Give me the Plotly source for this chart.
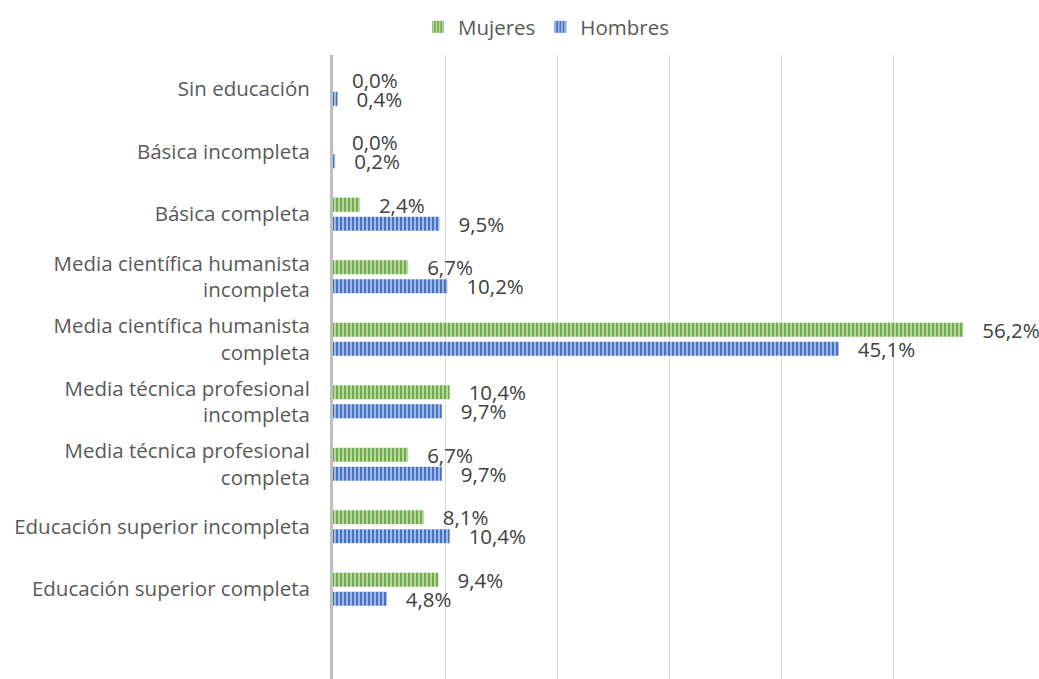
import plotly.graph_objects as go

categories = [
    "Sin educación",
    "Básica incompleta",
    "Básica completa",
    "Media científica humanista<br>incompleta",
    "Media científica humanista<br>completa",
    "Media técnica profesional<br>incompleta",
    "Media técnica profesional<br>completa",
    "Educación superior incompleta",
    "Educación superior completa",
]
mujeres = [0.0, 0.0, 2.4, 6.7, 56.2, 10.4, 6.7, 8.1, 9.4]
hombres = [0.4, 0.2, 9.5, 10.2, 45.1, 9.7, 9.7, 10.4, 4.8]
x_ticks = [0, 10, 20, 30, 40, 50, 60]

FONT = "Open Sans"
GREEN = "#70AD47"
BLUE = "#4472C4"
NB = "\u00a0\u00a0\u00a0"

fig = go.Figure()
for name, vals, col in [("Mujeres", mujeres, GREEN), ("Hombres", hombres, BLUE)]:
    fig.add_trace(go.Bar(
        name=name, y=categories, x=vals, orientation="h",
        marker=dict(color=col, line=dict(width=0),
                    pattern=dict(shape="|", fgcolor="white", bgcolor=col, size=4,
                                 solidity=0.25, fillmode="replace")),
        texttemplate=NB + "%{x:.1f}%", textposition="outside", cliponaxis=False,
        constraintext="none",
        textfont=dict(family=FONT, size=20.5, color="#404040"),
        hoverinfo="skip",
    ))

fig.update_layout(
    width=1039, height=679,
    paper_bgcolor="white", plot_bgcolor="white",
    margin=dict(l=333, r=33, t=55, b=0),
    barmode="group", bargap=0.39, bargroupgap=0.26,
    separators=",.",
    font=dict(family=FONT, size=20.5, color="#595959"),
    showlegend=True,
    legend=dict(orientation="h", xref="container", yref="container",
                x=546/1039, xanchor="center", y=1 - 27/679, yanchor="middle",
                itemwidth=30,
                font=dict(size=20.5, color="#595959"), traceorder="normal"),
    xaxis=dict(range=[0, 60], tickvals=x_ticks, showticklabels=False,
               showgrid=True, gridcolor="#D9D9D9", gridwidth=1,
               zeroline=False, showline=False, fixedrange=True),
    yaxis=dict(type="category", categoryorder="array", categoryarray=categories,
               range=[9.436, -0.548], showgrid=False, zeroline=False,
               showline=True, linecolor="#BFBFBF", linewidth=3,
               ticks="", ticklabelstandoff=16,
               tickfont=dict(family=FONT, size=20.5, color="#595959")),
)

fig.write_html("out.html")
